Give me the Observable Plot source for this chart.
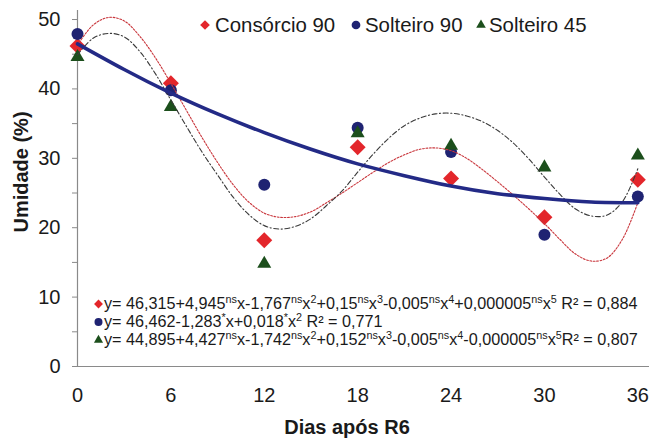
<!DOCTYPE html>
<html>
<head>
<meta charset="utf-8">
<script src="https://cdn.jsdelivr.net/npm/d3@7"></script>
<script src="https://cdn.jsdelivr.net/npm/@observablehq/plot@0.6"></script>
<style>
  html, body { margin: 0; padding: 0; background: #fff; }
  #chart svg { display: block; font-family: "Liberation Sans", Arial, sans-serif; }
</style>
</head>
<body>
<div id="chart"></div>
<script>
// ---- data ----
const days = [0, 6, 12, 18, 24, 30, 36];
const consorcio90 = [46.2, 40.8, 18.2, 31.6, 27.1, 21.5, 26.9];
const solteiro90  = [47.9, 39.8, 26.2, 34.4, 30.9, 19.0, 24.5];
const solteiro45  = [44.6, 37.4, 14.8, 33.6, 31.8, 28.7, 30.4];

// fitted curves
const curveDays = d3.range(0, 37, 1);
const fitConsorcio90 = [46.3, 49.2, 50.3, 49.8, 47.6, 44.5, 40.8, 36.9, 33.0, 29.4, 26.2, 23.7, 22.1, 21.5, 21.6, 22.3, 23.6, 25.0, 26.5, 28.0, 29.4, 30.5, 31.3, 31.5, 31.1, 30.0, 28.4, 26.6, 24.7, 22.7, 20.6, 18.3, 16.2, 15.2, 15.6, 18.3, 23.6];
const fitSolteiro45  = [44.9, 47.3, 48.0, 47.5, 45.4, 42.2, 38.4, 34.6, 30.9, 27.6, 24.4, 21.9, 20.3, 19.8, 20.2, 21.3, 23.2, 25.3, 28.0, 30.6, 32.9, 34.7, 35.8, 36.4, 36.5, 36.1, 35.3, 34.0, 32.2, 29.9, 27.3, 24.8, 22.7, 21.7, 21.8, 23.7, 28.5];
const blueDays = [0, 3, 6, 9, 12, 15, 18, 21, 24, 27, 30, 33, 36];
const fitSolteiro90 = [46.5, 42.8, 39.4, 36.4, 33.7, 31.3, 29.2, 27.5, 26.0, 24.9, 24.2, 23.7, 23.6];

const yTicks = [0, 10, 20, 30, 40, 50];
const yMinor = [0, 5, 10, 15, 20, 25, 30, 35, 40, 45, 50];
const xTicks = [0, 6, 12, 18, 24, 30, 36];

const seriesNames = ["Consórcio 90", "Solteiro 90", "Solteiro 45"];
const seriesColors = ["#e3262b", "#1f2372", "#1c4f1c"];
const equations = [
  "y= 46,315+4,945^ns^x-1,767^ns^x^2^+0,15^ns^x^3^-0,005^ns^x^4^+0,000005^ns^x^5^ R² = 0,884",
  "y= 46,462-1,283^*^x+0,018^*^x^2^ R² = 0,771",
  "y= 44,895+4,427^ns^x-1,742^ns^x^2^+0,152^ns^x^3^-0,005^ns^x^4^-0,000005^ns^x^5^R² = 0,807"
];
const xLabel = "Dias após R6";
const yLabel = "Umidade (%)";

// ---- tables ----
const pts = (ys) => days.map((d, i) => ({x: d, y: ys[i]}));
const red = pts(consorcio90), blue = pts(solteiro90), green = pts(solteiro45);
const redFit = curveDays.map((d, i) => ({x: d, y: fitConsorcio90[i]}));
const greenFit = curveDays.map((d, i) => ({x: d, y: fitSolteiro45[i]}));
const blueFit = blueDays.map((d, i) => ({x: d, y: fitSolteiro90[i]}));

const plot = Plot.plot({
  width: 649,
  height: 441,
  marginLeft: 77,
  marginRight: 0,
  marginTop: 10,
  marginBottom: 75,
  style: {fontFamily: "'Liberation Sans', Arial, sans-serif", color: "#1a1a1a", background: "#fff"},
  x: {domain: [0, 36.75]},
  y: {domain: [0, 51.3]},
  marks: [
    Plot.axisY(yMinor, {tickSize: 5, tickFormat: () => "", stroke: "#8a8a8a", label: null}),
    Plot.axisY(yTicks, {tickSize: 0, tickPadding: 17, fontSize: 20, label: null}),
    Plot.axisX(xTicks, {tickSize: 0, tickPadding: 21, fontSize: 20, label: null}),
    Plot.ruleX([0], {y1: 0, y2: 51.3, stroke: "#8a8a8a", strokeWidth: 1.2}),
    Plot.ruleY([0], {stroke: "#8a8a8a", strokeWidth: 1.2}),
    Plot.dot(red, {x: "x", y: "y", symbol: "diamond2", r: 7.2, fill: seriesColors[0]}),
    Plot.dot(blue, {x: "x", y: "y", symbol: "circle", r: 6, fill: seriesColors[1]}),
    Plot.dot(green, {x: "x", y: "y", symbol: "triangle", r: 5.2, fill: seriesColors[2]}),
    Plot.line(redFit, {x: "x", y: "y", curve: "catmull-rom", stroke: "#c9363c", strokeWidth: 1.1, strokeDasharray: "1.8,1.6"}),
    Plot.line(greenFit, {x: "x", y: "y", curve: "catmull-rom", stroke: "#3a3a3a", strokeWidth: 1.1, strokeDasharray: "5,2.5,1.2,2.5"}),
    Plot.line(blueFit, {x: "x", y: "y", curve: "natural", stroke: "#232a86", strokeWidth: 3.6})
  ]
});
document.getElementById("chart").appendChild(plot);

// ---- annotations: axis titles, legend, equations ----
const svg = d3.select(plot);
svg.append("text")
  .attr("x", 347).attr("y", 434)
  .attr("text-anchor", "middle")
  .attr("font-size", 20).attr("font-weight", "bold").attr("fill", "#1a1a1a")
  .text(xLabel);
svg.append("text")
  .attr("transform", "translate(21,172) rotate(-90)")
  .attr("text-anchor", "middle").attr("dy", "0.36em")
  .attr("font-size", 20).attr("font-weight", "bold").attr("fill", "#1a1a1a")
  .text(yLabel);

const symbols = [d3.symbolDiamond2, d3.symbolCircle, d3.symbolTriangle];
const legendKeyX = [205, 356, 481];
const legendTextX = [215, 365, 489];
const legendSizes = [60, 60, 40];
const legend = svg.append("g").attr("text-anchor", "start");
seriesNames.forEach((name, i) => {
  legend.append("path")
    .attr("transform", `translate(${legendKeyX[i]},25)`)
    .attr("d", d3.symbol(symbols[i], legendSizes[i])())
    .attr("fill", seriesColors[i]);
  legend.append("text")
    .attr("x", legendTextX[i]).attr("y", 32)
    .attr("text-anchor", "start")
    .attr("font-size", 20.4).attr("fill", "#1a1a1a")
    .text(name);
});

const eqG = svg.append("g").attr("text-anchor", "start");
const eqBase = [309, 327, 345];
const eqSizes = [50, 50, 36];
equations.forEach((eq, i) => {
  eqG.append("path")
    .attr("transform", `translate(98.5,${eqBase[i] - 5})`)
    .attr("d", d3.symbol(symbols[i], eqSizes[i])())
    .attr("fill", seriesColors[i]);
  const t = eqG.append("text")
    .attr("x", 104).attr("y", eqBase[i])
    .attr("text-anchor", "start")
    .attr("font-size", 16.2).attr("fill", "#1a1a1a");
  const parts = eq.split("^");
  parts.forEach((p, k) => {
    if (!p) return;
    const sup = k % 2 === 1;
    t.append("tspan")
      .attr("font-size", sup ? 10.8 : 16.2)
      .attr("baseline-shift", sup ? "6" : "0")
      .text(p);
  });
});
</script>
</body>
</html>
